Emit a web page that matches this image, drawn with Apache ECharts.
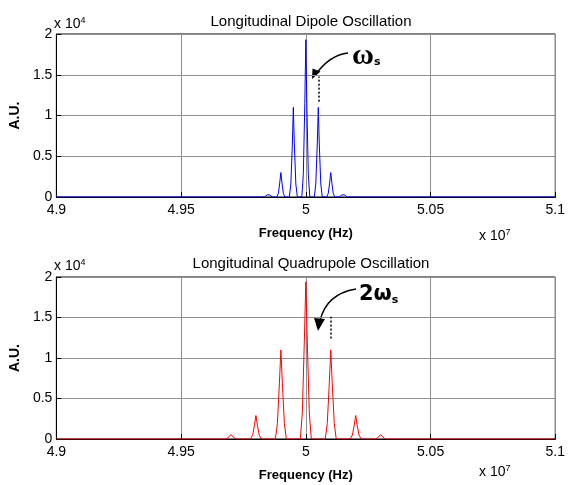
<!DOCTYPE html>
<html>
<head>
<meta charset="utf-8">
<script src="https://cdn.jsdelivr.net/npm/echarts@6/dist/echarts.min.js"></script>
<style>html,body{margin:0;padding:0;background:#fff;}#c{width:568px;height:485px;}</style>
</head>
<body>
<div id="c"></div>
<script>
// Frequency in Hz, amplitude in A.U.
var dipoleData = [
  [49000000,0],
  [49834000,0],[49840000,80],[49845000,260],[49850000,500],[49855000,260],[49860000,80],[49866000,0],
  [49884000,0],[49890000,450],[49895000,1600],[49900000,3000],[49905000,1600],[49910000,450],[49916000,0],
  [49934000,0],[49940000,1600],[49946000,6500],[49950000,11000],[49954000,6500],[49960000,1600],[49966000,0],
  [49984000,0],[49990000,2800],[49996000,11500],[50000000,19300],[50004000,11500],[50010000,2800],[50016000,0],
  [50034000,0],[50040000,1600],[50046000,6500],[50050000,11000],[50054000,6500],[50060000,1600],[50066000,0],
  [50084000,0],[50090000,450],[50095000,1600],[50100000,3000],[50105000,1600],[50110000,450],[50116000,0],
  [50134000,0],[50140000,80],[50145000,260],[50150000,500],[50155000,260],[50160000,80],[50166000,0],
  [51000000,0]
];
var quadData = [
  [49000000,0],
  [49678000,0],[49687000,120],[49693000,330],[49700000,550],[49707000,330],[49713000,120],[49722000,0],
  [49778000,0],[49787000,500],[49794000,1700],[49800000,2900],[49806000,1700],[49813000,500],[49822000,0],
  [49878000,0],[49886000,1900],[49894000,6800],[49900000,11000],[49906000,6800],[49914000,1900],[49922000,0],
  [49978000,0],[49986000,3200],[49994000,12000],[50000000,19400],[50006000,12000],[50014000,3200],[50022000,0],
  [50078000,0],[50086000,1900],[50094000,6800],[50100000,11000],[50106000,6800],[50114000,1900],[50122000,0],
  [50178000,0],[50187000,500],[50194000,1700],[50200000,2900],[50206000,1700],[50213000,500],[50222000,0],
  [50278000,0],[50287000,120],[50293000,330],[50300000,550],[50307000,330],[50313000,120],[50322000,0],
  [51000000,0]
];
var titles = ['Longitudinal Dipole Oscillation', 'Longitudinal Quadrupole Oscillation'];
var xMin = 49000000, xMax = 51000000, xStep = 500000;
var yMin = 0, yMax = 20000, yStep = 5000;
var dipoleMarker = [[50050000, 11700], [50050000, 14800]];
var quadMarker = [[50100000, 12400], [50100000, 15100]];

var FONT = 'Liberation Sans, Arial, sans-serif';
function xAxis(idx){
  return {
    type:'value', gridIndex: idx, min:xMin, max:xMax, interval:xStep,
    name:'Frequency (Hz)', nameLocation:'middle', nameGap:30,
    nameTextStyle:{fontFamily:FONT, fontWeight:'bold', fontSize:13, color:'#000'},
    axisLine:{show:true, onZero:false, lineStyle:{color:'#000', width:1}},
    axisTick:{show:true, inside:true, length:5, lineStyle:{color:'#000'}},
    axisLabel:{fontFamily:FONT, fontSize:14, color:'#000', margin:6,
      formatter:function(v){return String(+(v/1e7).toFixed(2));}},
    splitLine:{show:true, lineStyle:{color:'#8f8f8f', width:1}}
  };
}
function yAxis(idx){
  return {
    type:'value', gridIndex: idx, min:yMin, max:yMax, interval:yStep,
    name:'A.U.', nameLocation:'middle', nameGap:33, nameRotate:90,
    nameTextStyle:{fontFamily:FONT, fontWeight:'bold', fontSize:14, color:'#000'},
    axisLine:{show:true, lineStyle:{color:'#000', width:1}},
    axisTick:{show:true, inside:true, length:5, lineStyle:{color:'#000'}},
    axisLabel:{fontFamily:FONT, fontSize:14, color:'#000', margin:4,
      formatter:function(v){return String(+(v/1e4).toFixed(1));}},
    splitLine:{show:true, lineStyle:{color:'#8f8f8f', width:1}}
  };
}
function marker(pts){
  return {silent:true, symbol:['none','none'], label:{show:false},
    lineStyle:{color:'#000', type:[2,2], width:1.5},
    data:[[{coord:pts[0]},{coord:pts[1]}]]};
}
var chart = echarts.init(document.getElementById('c'), null, {renderer:'canvas'});
chart.setOption({
  animation:false,
  backgroundColor:'#fff',
  title:[
    {text:titles[0], left:306, top:9, textAlign:'center', textStyle:{fontFamily:FONT, fontSize:15, fontWeight:'normal', color:'#000'}},
    {text:titles[1], left:306, top:251, textAlign:'center', textStyle:{fontFamily:FONT, fontSize:15, fontWeight:'normal', color:'#000'}}
  ],
  grid:[
    {left:55, top:34, width:502, height:163, show:true, borderColor:'#000', borderWidth:1, containLabel:false},
    {left:55, top:277, width:502, height:162, show:true, borderColor:'#000', borderWidth:1, containLabel:false}
  ],
  xAxis:[xAxis(0), xAxis(1)],
  yAxis:[yAxis(0), yAxis(1)],
  series:[
    {type:'line', xAxisIndex:0, yAxisIndex:0, data:dipoleData, showSymbol:false, symbol:'none',
      lineStyle:{color:'#0000ff', width:1}, markLine:marker(dipoleMarker)},
    {type:'line', xAxisIndex:1, yAxisIndex:1, data:quadData, showSymbol:false, symbol:'none',
      lineStyle:{color:'#ff0000', width:1}, markLine:marker(quadMarker)}
  ],
  graphic:[
    {type:'text', left:54, top:16, style:{text:'x 10{s|4}', fontFamily:FONT, fontSize:14, fill:'#000',
      rich:{s:{fontSize:9, verticalAlign:'top', padding:[0,0,8,0], fontFamily:FONT}}}},
    {type:'text', left:54, top:258, style:{text:'x 10{s|4}', fontFamily:FONT, fontSize:14, fill:'#000',
      rich:{s:{fontSize:9, verticalAlign:'top', padding:[0,0,8,0], fontFamily:FONT}}}},
    {type:'text', left:479, top:228, style:{text:'x 10{s|7}', fontFamily:FONT, fontSize:14, fill:'#000',
      rich:{s:{fontSize:9, padding:[0,0,8,0], fontFamily:FONT}}}},
    {type:'text', left:479, top:464, style:{text:'x 10{s|7}', fontFamily:FONT, fontSize:14, fill:'#000',
      rich:{s:{fontSize:9, padding:[0,0,8,0], fontFamily:FONT}}}},
    // omega_s annotation
    {type:'text', x:352, y:56, style:{text:'{w|ω}{s|s}', textVerticalAlign:'middle',
      rich:{w:{fontFamily:'Liberation Serif, serif', fontWeight:'bold', fontSize:30, fill:'#000'},
            s:{fontFamily:'DejaVu Sans, sans-serif', fontWeight:'bold', fontSize:11, fill:'#000', padding:[12,0,0,0]}}}},
    {type:'bezierCurve', shape:{x1:348, y1:53, x2:316, y2:74, cpx1:330, cpy1:55}, style:{stroke:'#000', lineWidth:1.5, fill:null}},
    {type:'polygon', shape:{points:[[312,79],[320.5,71.5],[312.5,68.5]]}, style:{fill:'#000'}},
    // 2 omega_s annotation
    {type:'text', x:359, y:295, style:{text:'{w|2ω}{s|s}', textVerticalAlign:'middle',
      rich:{w:{fontFamily:'DejaVu Sans, sans-serif', fontWeight:'bold', fontSize:21, fill:'#000'},
            s:{fontFamily:'DejaVu Sans, sans-serif', fontWeight:'bold', fontSize:11, fill:'#000', padding:[10,0,0,0]}}}},
    {type:'bezierCurve', shape:{x1:356, y1:289, x2:320, y2:321, cpx1:326, cpy1:294}, style:{stroke:'#000', lineWidth:1.5, fill:null}},
    {type:'polygon', shape:{points:[[318,331],[325,319],[314,318]]}, style:{fill:'#000'}}
  ]
});
</script>
</body>
</html>
